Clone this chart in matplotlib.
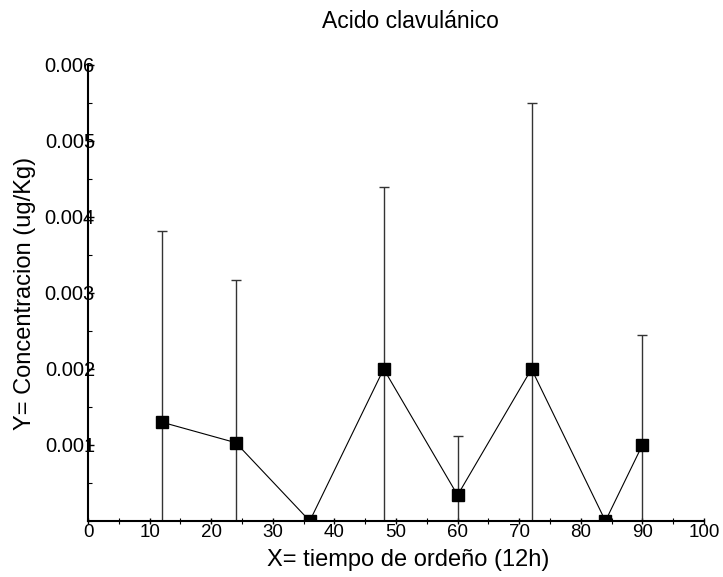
import matplotlib
matplotlib.use("Agg")
import matplotlib.pyplot as plt
from matplotlib.ticker import MultipleLocator

plt.rcParams['font.family'] = ['Liberation Sans', 'DejaVu Sans']

x_vals = [12, 24, 36, 48, 60, 72, 84, 90]
y_vals = [0.0013, 0.00103, 0.0, 0.002, 0.00034, 0.002, 0.0, 0.001]
y_err = [0.00252, 0.00214, 0.0, 0.0024, 0.00078, 0.0035, 0.0, 0.00145]
x_ticks = [0, 10, 20, 30, 40, 50, 60, 70, 80, 90, 100]
y_ticks = [0.001, 0.002, 0.003, 0.004, 0.005, 0.006]
y_tick_labels = ['0.001', '0.002', '0.003', '0.004', '0.005', '0.006']

fig = plt.figure(figsize=(7.23, 5.77), dpi=100)
ax = fig.add_axes([88/723, 1 - 521/577, (704 - 88)/723, (521 - 65)/577])

ax.errorbar(x_vals, y_vals, yerr=y_err, fmt='none', ecolor='#333333',
            elinewidth=1.0, capsize=3.3, capthick=1.0, zorder=2)
ax.plot(x_vals, y_vals, color='black', linewidth=0.8, zorder=3)
ax.plot(x_vals, y_vals, linestyle='none', marker='s', markersize=8,
        color='black', zorder=4)

ax.set_xlim(0, 100)
ax.set_ylim(0, 0.006)
ax.set_xticks(x_ticks)
ax.set_xticklabels([str(t) for t in x_ticks])
ax.xaxis.set_minor_locator(MultipleLocator(5))
ax.set_yticks(y_ticks)
ax.set_yticklabels(y_tick_labels)
ax.yaxis.set_minor_locator(MultipleLocator(0.0005))

for s in ['top', 'right']:
    ax.spines[s].set_visible(False)
for s in ['left', 'bottom']:
    ax.spines[s].set_linewidth(1.5)
    ax.spines[s].set_color('black')

ax.tick_params(axis='x', which='major', direction='inout', length=5, width=1,
               labelsize=13.5, pad=0)
ax.tick_params(axis='x', which='minor', direction='inout', length=4, width=0.8)
ax.tick_params(axis='y', which='major', direction='in', length=4, width=1,
               labelsize=14.5, pad=-5)
ax.tick_params(axis='y', which='minor', direction='in', length=3, width=0.8)

ax.set_xlabel('X= tiempo de ordeño (12h)', fontsize=17)
ax.xaxis.set_label_coords(0.519, -0.062)
ax.set_ylabel('Y= Concentracion (ug/Kg)', fontsize=17)
ax.yaxis.set_label_coords(-0.084, 0.5)
fig.text(410/723, 1 - 21/577, 'Acido clavulánico', ha='center', va='center',
         fontsize=16.5)

fig.savefig('out.png', dpi=100)
